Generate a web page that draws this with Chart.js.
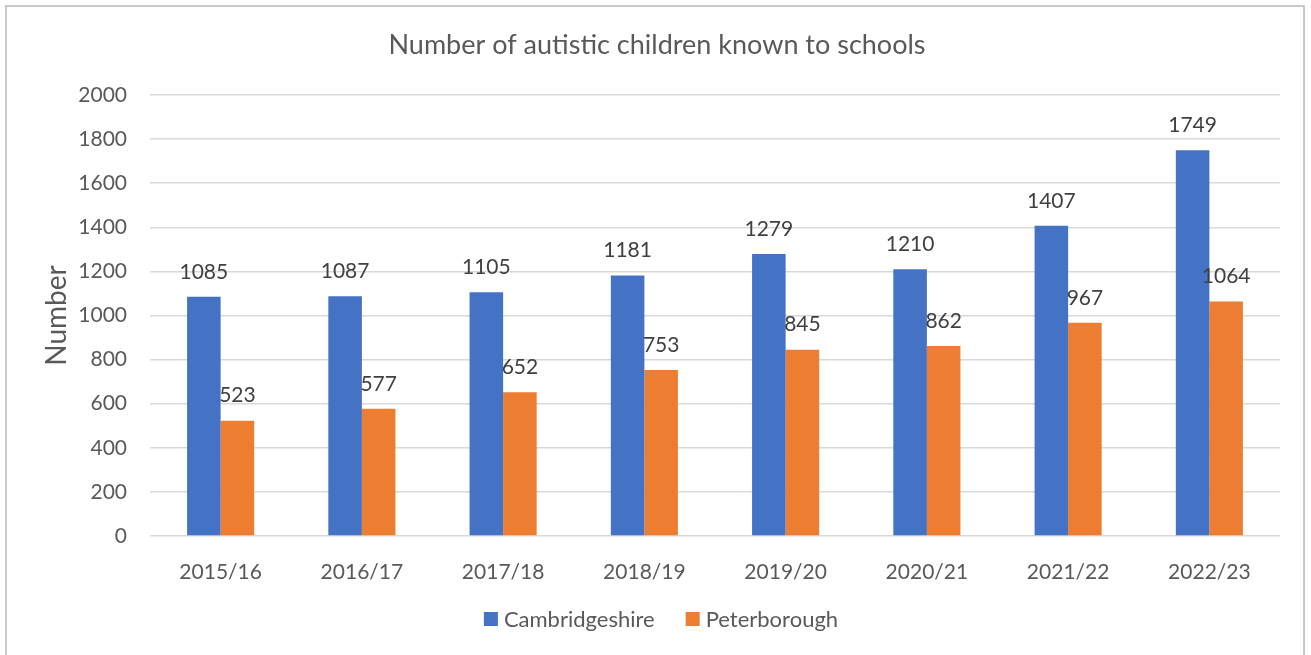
<!DOCTYPE html>
<html>
<head>
<meta charset="utf-8">
<title>Number of autistic children known to schools</title>
<script src="https://cdn.jsdelivr.net/npm/chart.js@4.4.1/dist/chart.umd.min.js"></script>
<style>
  html, body { margin: 0; padding: 0; background: #fff; overflow: hidden; }
  .frame {
    position: absolute; left: 5px; top: 5px; width: 1300px; height: 700px;
    border: 2px solid #c8c8c8; box-sizing: border-box;
  }
  #chartWrap { position: absolute; left: 0; top: 0; width: 1311px; height: 655px; }
</style>
</head>
<body>
<div class="frame"></div>
<div id="chartWrap"><canvas id="schoolsChart"></canvas></div>
<script>
const years = ['2015/16', '2016/17', '2017/18', '2018/19', '2019/20', '2020/21', '2021/22', '2022/23'];
const cambridgeshire = [1085, 1087, 1105, 1181, 1279, 1210, 1407, 1749];
const peterborough = [523, 577, 652, 753, 845, 862, 967, 1064];
const yTicks = [0, 200, 400, 600, 800, 1000, 1200, 1400, 1600, 1800, 2000];

const FONT = 'Lato, "Open Sans", sans-serif';
const TEXT_GREY = '#595959';

// title, value labels and legend drawn straight onto the canvas
const extrasPlugin = {
    id: 'extras',
    afterDatasetsDraw(chart) {
        const ctx = chart.ctx;
        ctx.save();
        ctx.font = '21px ' + FONT;
        ctx.fillStyle = '#404040';
        ctx.textAlign = 'center';
        ctx.textBaseline = 'middle';
        chart.data.datasets.forEach((ds, i) => {
            chart.getDatasetMeta(i).data.forEach((bar, j) => {
                ctx.fillText(String(ds.data[j]), bar.x, bar.y - 25);
            });
        });
        ctx.restore();
    },
    afterDraw(chart) {
        const ctx = chart.ctx;
        ctx.save();
        ctx.fillStyle = TEXT_GREY;
        ctx.textBaseline = 'middle';

        ctx.font = '27px ' + FONT;
        ctx.textAlign = 'center';
        ctx.fillText('Number of autistic children known to schools', 657, 45);

        // legend
        ctx.font = '22px ' + FONT;
        ctx.textAlign = 'left';
        const items = chart.data.datasets.map(ds => ({ text: ds.label, color: ds.backgroundColor }));
        const box = 14, gap = 6, spacing = 31;
        let total = 0;
        items.forEach((it, k) => {
            it.w = ctx.measureText(it.text).width;
            total += box + gap + it.w + (k ? spacing : 0);
        });
        let x = 661 - total / 2;
        const y = 619;
        items.forEach(it => {
            ctx.fillStyle = it.color;
            ctx.fillRect(x, y - box / 2, box, box);
            ctx.fillStyle = TEXT_GREY;
            ctx.fillText(it.text, x + box + gap, y + 1);
            x += box + gap + it.w + spacing;
        });
        ctx.restore();
    }
};

new Chart(document.getElementById('schoolsChart'), {
    type: 'bar',
    data: {
        labels: years,
        datasets: [
            {
                label: 'Cambridgeshire',
                data: cambridgeshire,
                backgroundColor: '#4472C4',
                categoryPercentage: 0.475,
                barPercentage: 1.0
            },
            {
                label: 'Peterborough',
                data: peterborough,
                backgroundColor: '#ED7D31',
                categoryPercentage: 0.475,
                barPercentage: 1.0
            }
        ]
    },
    options: {
        responsive: true,
        maintainAspectRatio: false,
        animation: false,
        layout: {
            padding: { left: 30, right: 31, top: 95, bottom: 0 }
        },
        plugins: {
            legend: { display: false },
            title: { display: false },
            tooltip: { enabled: false }
        },
        scales: {
            x: {
                grid: { display: false },
                border: { display: false },
                ticks: {
                    color: TEXT_GREY,
                    font: { family: FONT, size: 21 },
                    padding: 16,
                    maxRotation: 0
                },
                afterFit(scale) { scale.height = 119; }
            },
            y: {
                min: 0,
                max: 2000,
                afterBuildTicks(scale) {
                    scale.ticks = yTicks.map(v => ({ value: v }));
                },
                grid: {
                    color: '#d9d9d9',
                    lineWidth: 1.5,
                    drawTicks: false
                },
                border: { display: false },
                ticks: {
                    color: TEXT_GREY,
                    font: { family: FONT, size: 21 },
                    padding: 23,
                    callback: v => String(v)
                },
                title: {
                    display: true,
                    text: 'Number',
                    color: TEXT_GREY,
                    font: { family: FONT, size: 28 },
                    padding: { top: 10, bottom: 0 }
                },
                afterFit(scale) { scale.width = 120; }
            }
        }
    },
    plugins: [extrasPlugin]
});
</script>
</body>
</html>
